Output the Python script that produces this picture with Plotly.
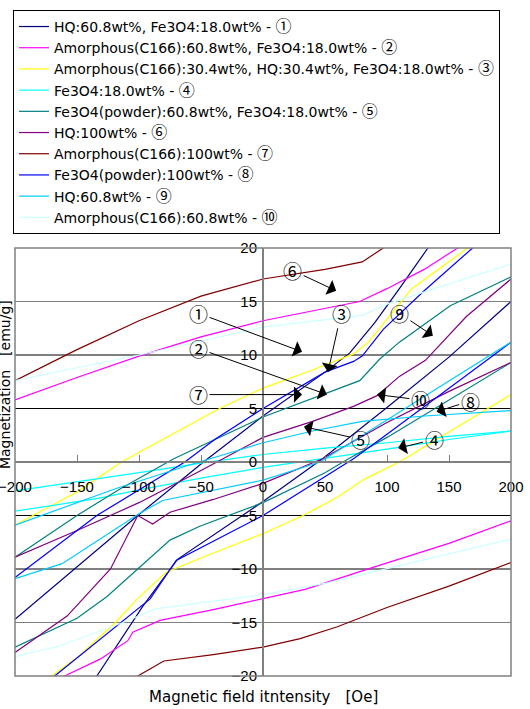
import plotly.graph_objects as go

# ---------------- data (field in Oe, magnetization in emu/g) ----------------
CJK = "font-family:'Noto Sans CJK JP';font-size:16px"
circ = ["①", "②", "③", "④", "⑤", "⑥", "⑦", "⑧", "⑨", "⑩"]
base_names = [
    "HQ:60.8wt%, Fe3O4:18.0wt% - ",
    "Amorphous(C166):60.8wt%, Fe3O4:18.0wt% - ",
    "Amorphous(C166):30.4wt%, HQ:30.4wt%, Fe3O4:18.0wt% - ",
    "Fe3O4:18.0wt% - ",
    "Fe3O4(powder):60.8wt%, Fe3O4:18.0wt% - ",
    "HQ:100wt% - ",
    "Amorphous(C166):100wt% - ",
    "Fe3O4(powder):100wt% - ",
    "HQ:60.8wt% - ",
    "Amorphous(C166):60.8wt% - ",
]
colors = ["#000080", "#FF00FF", "#FFFF00", "#00FFFF", "#008080",
          "#800080", "#800000", "#0000FF", "#00CCFF", "#CCFFFF"]

# 1 HQ 60.8 + Fe3O4
s1_up_x = [-200, -101, -48, 0, 50, 70, 90, 110, 133, 160]
s1_up_y = [-14.7, -5.0, 0.0, 4.3, 8.4, 10.2, 13.0, 16.2, 20.0, 24.0]
s1_lo_x = [-200, -134, -97, -69, 0, 48, 100, 150, 200]
s1_lo_y = [-27.0, -20.0, -13.5, -9.1, -3.7, 0.3, 5.1, 9.8, 15.0]
# 2 Amorphous 60.8 + Fe3O4
s2_up_x = [-200, -150, -100, -50, 0, 40, 78, 100, 130, 157, 200]
s2_up_y = [5.8, 7.9, 9.9, 11.7, 13.2, 14.1, 15.0, 16.2, 18.0, 20.0, 22.5]
s2_lo_x = [-200, -160, -131, -109, -105, -83, -40, 0, 34, 90, 150, 200]
s2_lo_y = [-22.5, -20.0, -18.4, -16.7, -15.9, -14.8, -13.8, -12.8, -11.9, -9.8, -7.6, -5.5]
# 3 Amorphous 30.4 + HQ 30.4 + Fe3O4
s3_up_x = [-200, -150, -114, -81, -35, 0, 40, 73, 85, 100, 120, 165, 200]
s3_up_y = [-5.9, -2.8, 0.0, 2.1, 5.0, 6.9, 8.6, 10.1, 11.2, 13.3, 16.2, 20.0, 22.0]
s3_lo_x = [-200, -170, -148, -119, -103, -94, -78, -40, 0, 34, 60, 82, 110, 150, 200]
s3_lo_y = [-22.5, -20.0, -18.1, -15.0, -13.0, -12.0, -10.3, -8.5, -6.7, -4.9, -3.3, -1.6, 0.0, 2.8, 6.3]
# 4 Fe3O4 18.0
s4_up_x = [-200, -100, -50, 0, 50, 100, 150, 200]
s4_up_y = [-2.7, -1.0, -0.1, 0.7, 1.3, 1.8, 2.4, 2.9]
s4_lo_x = [-200, -133, -100, -50, 0, 48, 100, 150, 200]
s4_lo_y = [-4.6, -3.4, -2.6, -1.5, -0.5, 0.3, 1.2, 2.1, 2.9]
# 5 Fe3O4 powder 60.8 + Fe3O4
s5_up_x = [-200, -150, -115, -72, 0, 50, 78, 94, 110, 151, 200]
s5_up_y = [-8.9, -5.0, -2.5, 0.3, 4.2, 6.4, 7.6, 9.6, 11.2, 14.6, 17.3]
s5_lo_x = [-200, -150, -126, -99, -75, -51, 0, 50, 69, 100, 150, 200]
s5_lo_y = [-17.3, -14.6, -12.6, -9.8, -7.3, -6.0, -3.8, -1.0, 0.3, 2.3, 5.8, 9.3]
# 6 HQ 100
s6_up_x = [-200, -150, -100, -50, 0, 40, 73, 92, 110, 131, 164, 200]
s6_up_y = [-8.9, -6.4, -3.8, -0.8, 2.3, 3.8, 5.2, 6.2, 8.0, 9.5, 13.6, 17.1]
s6_lo_x = [-200, -158, -123, -101, -89, -75, -40, 0, 48, 100, 150, 200]
s6_lo_y = [-17.8, -14.4, -10.0, -5.0, -5.8, -4.7, -3.5, -2.0, 0.3, 3.7, 6.6, 9.3]
# 7 Amorphous 100
s7_up_x = [-200, -150, -100, -50, 0, 50, 80, 97, 150, 200]
s7_up_y = [7.6, 10.5, 13.2, 15.5, 17.1, 18.0, 18.7, 20.0, 23.0, 25.0]
s7_lo_x = [-200, -120, -101, -90, -80, -40, 0, 30, 60, 100, 150, 200]
s7_lo_y = [-25.0, -21.2, -20.0, -19.3, -18.6, -18.0, -17.3, -16.5, -15.4, -13.6, -11.6, -9.4]
# 8 Fe3O4 powder 100
s8_up_x = [-200, -134, -63, -39, 0, 50, 73, 80, 97, 130, 169, 200]
s8_up_y = [-10.8, -5.0, 0.0, 2.1, 5.0, 8.4, 9.4, 9.9, 12.4, 16.0, 20.0, 23.0]
s8_lo_x = [-200, -168, -91, -70, 0, 73, 100, 150, 200]
s8_lo_y = [-25.0, -20.0, -12.8, -9.2, -5.0, 0.3, 2.6, 6.9, 11.2]
# 9 HQ 60.8
s9_up_x = [-200, -160, -119, -60, 0, 40, 80, 130, 200]
s9_up_y = [-5.9, -4.2, -2.5, -0.3, 1.8, 2.9, 3.8, 4.3, 4.8]
s9_lo_x = [-200, -162, -101, -81, 0, 46, 131, 200]
s9_lo_y = [-10.9, -9.5, -4.9, -3.6, -1.7, 0.0, 6.2, 11.2]
# 10 Amorphous 60.8
s10_up_x = [-200, -100, 0, 80, 101, 200]
s10_up_y = [7.6, 10.0, 12.6, 13.7, 14.8, 18.5]
s10_lo_x = [-200, -164, -113, -86, 0, 52, 106, 200]
s10_lo_y = [-18.2, -17.2, -15.0, -13.7, -12.4, -11.3, -9.8, -7.2]

branches = [
    (s1_up_x, s1_up_y, s1_lo_x, s1_lo_y),
    (s2_up_x, s2_up_y, s2_lo_x, s2_lo_y),
    (s3_up_x, s3_up_y, s3_lo_x, s3_lo_y),
    (s4_up_x, s4_up_y, s4_lo_x, s4_lo_y),
    (s5_up_x, s5_up_y, s5_lo_x, s5_lo_y),
    (s6_up_x, s6_up_y, s6_lo_x, s6_lo_y),
    (s7_up_x, s7_up_y, s7_lo_x, s7_lo_y),
    (s8_up_x, s8_up_y, s8_lo_x, s8_lo_y),
    (s9_up_x, s9_up_y, s9_lo_x, s9_lo_y),
    (s10_up_x, s10_up_y, s10_lo_x, s10_lo_y),
]

x_ticks = [-200, -150, -100, -50, 0, 50, 100, 150, 200]
y_ticks = [-20, -15, -10, -5, 0, 5, 10, 15, 20]
grid_dark = [-10, -5, 5, 10]
grid_light = [-15, 15]

# callout labels: (text, label x, label y, arrow tip x, arrow tip y)
callout_text = ["⑥", "①", "②", "⑦", "③", "⑨", "⑩", "⑧", "⑤", "④"]
callout_lx = [24, -52, -52, -52, 63, 110, 127, 167, 79, 138]
callout_ly = [17.9, 13.9, 10.6, 6.3, 13.9, 13.9, 5.8, 5.7, 2.1, 2.1]
callout_tx = [59, 31.5, 51.6, 31.5, 52.4, 137, 92, 140, 33, 109]
callout_ty = [16.0, 10.3, 6.3, 6.3, 8.4, 11.8, 6.3, 4.7, 3.3, 1.3]

FONT = "'DejaVu Sans', 'Noto Sans CJK JP', sans-serif"
TICKFONT = "Arial, 'Liberation Sans', sans-serif"

fig = go.Figure()
for base, c, col, (ux, uy, lx, ly) in zip(base_names, circ, colors, branches):
    name = base + f'<span style="{CJK}">{c}</span>'
    # descending-field branch, gap, ascending-field branch
    xs = list(reversed(ux)) + [None] + list(lx)
    ys = list(reversed(uy)) + [None] + list(ly)
    fig.add_trace(go.Scatter(x=xs, y=ys, mode="lines", name=name,
                             line=dict(color=col, width=1.2),
                             connectgaps=False, hoverinfo="skip"))

shapes = []
for g in grid_dark:
    shapes.append(dict(type="line", xref="x", yref="y", x0=-200, x1=200, y0=g, y1=g,
                       line=dict(color="#000000", width=1), layer="below"))
for g in grid_light:
    shapes.append(dict(type="line", xref="x", yref="y", x0=-200, x1=200, y0=g, y1=g,
                       line=dict(color="#7f7f7f", width=1), layer="below"))
shapes.append(dict(type="rect", xref="paper", yref="paper", x0=0, x1=1, y0=0, y1=1,
                   line=dict(color="#808080", width=1.5), layer="above"))

annotations = []
for t, lxv, lyv, txv, tyv in zip(callout_text, callout_lx, callout_ly, callout_tx, callout_ty):
    annotations.append(dict(x=txv, y=tyv, xref="x", yref="y", ax=lxv, ay=lyv,
                            axref="x", ayref="y", text=t, showarrow=True,
                            arrowhead=1, arrowsize=2.7, arrowwidth=1, arrowcolor="black",
                            font=dict(size=19, color="black", family="'Noto Sans CJK JP'")))
annotations.append(dict(x=0.502, y=-0.049, xref="paper", yref="paper", showarrow=False,
                        xanchor="center", yanchor="middle",
                        text="Magnetic field itntensity　[Oe]",
                        font=dict(size=15, color="black", family=FONT)))
annotations.append(dict(x=-0.020, y=0.68, xref="paper", yref="paper", showarrow=False,
                        xanchor="center", yanchor="middle",
                        text="Magnetization　[emu/g]", textangle=-90,
                        font=dict(size=14, color="black", family=FONT)))

fig.update_layout(
    width=530, height=709,
    margin=dict(l=15, r=19, t=248, b=33, autoexpand=False),
    paper_bgcolor="white", plot_bgcolor="white",
    font=dict(family=FONT, size=14, color="black"),
    showlegend=True,
    legend=dict(xref="container", yref="container", x=0.0245, y=0.986,
                xanchor="left", yanchor="top",
                bordercolor="black", borderwidth=1, bgcolor="white",
                font=dict(size=14, family=FONT), tracegroupgap=0),
    shapes=shapes,
    annotations=annotations,
    xaxis=dict(range=[-200, 200], tickvals=x_ticks, ticks="inside", ticklen=6,
               tickcolor="#808080", showline=True, linecolor="#808080", linewidth=2,
               showgrid=False, zeroline=False, anchor="free", position=0.5,
               tickfont=dict(size=15, family=TICKFONT), ticklabelstandoff=11,
               ticklabeloverflow="allow"),
    yaxis=dict(range=[-20, 20], tickvals=y_ticks, ticks="", showline=True,
               linecolor="#808080", linewidth=2, showgrid=False, zeroline=False,
               anchor="free", position=0.5, tickfont=dict(size=15, family=TICKFONT),
               ticklabelstandoff=2, ticklabeloverflow="allow"),
)

fig.write_html("out.html", config={"displayModeBar": False},
               post_script="document.body.style.margin='0px';")
